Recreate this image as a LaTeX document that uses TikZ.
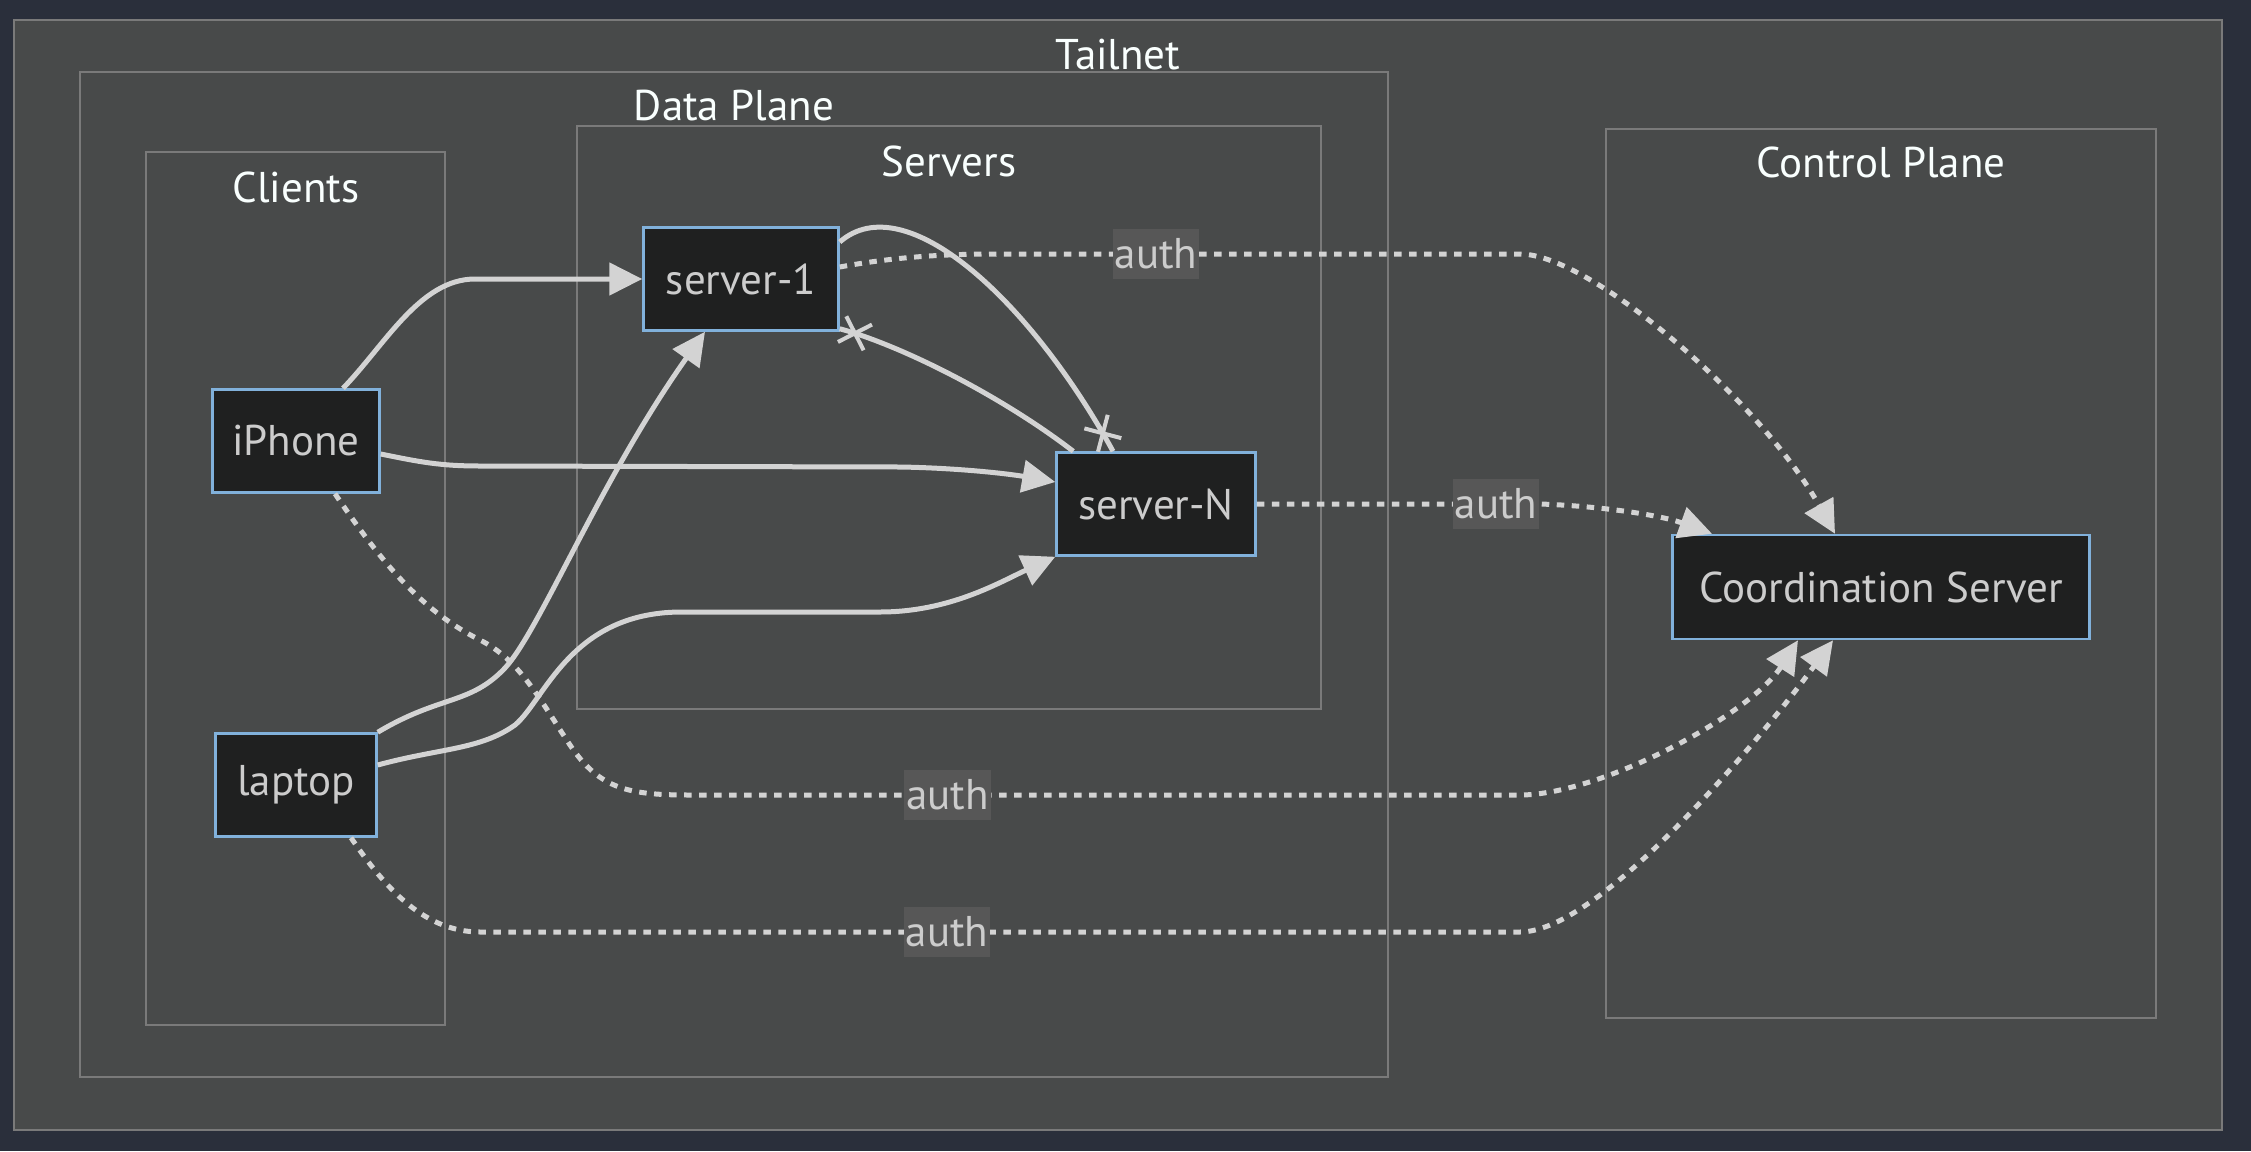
\documentclass[tikz,border=0pt]{standalone}
\usepackage{fontspec}
\setmainfont{PT Sans}
\usetikzlibrary{arrows.meta,positioning,calc,shapes.misc}
\definecolor{bgnavy}{HTML}{2A2F3B}
\definecolor{clfill}{HTML}{484A4A}
\definecolor{clgray}{HTML}{7A7A7A}
\definecolor{nodedark}{HTML}{1F2020}
\definecolor{nodeblue}{HTML}{81B1DB}
\definecolor{edgegray}{HTML}{D3D3D3}
\definecolor{softgray}{HTML}{CCCCCC}
\definecolor{titlewhite}{HTML}{F9FFFE}
\definecolor{lblgray}{HTML}{575757}
\tikzset{
  box/.style={rectangle,draw=nodeblue,fill=nodedark,line width=2.5pt,
    minimum width=#1,minimum height=103pt,inner sep=0pt,
    text=softgray,font=\fontsize{43}{50}\selectfont},
  cluster/.style={draw=clgray,fill=clfill,line width=2.5pt},
  ctitle/.style={text=titlewhite,inner sep=0pt,font=\fontsize{43}{50}\selectfont},
}

\begin{document}
\begin{tikzpicture}[
  x=1pt,y=-1pt,
  flow/.style={-{Triangle[length=33pt,width=32pt]},draw=edgegray,line width=5pt},
  authflow/.style={flow,dash pattern=on 7.5pt off 7.5pt},
  cut/.style={draw=edgegray,line width=5pt},
  xmark/.style={cross out,draw=edgegray,line width=4pt,minimum size=23pt,
    inner sep=0pt,sloped,solid},
  lbl/.style={fill=lblgray,text=softgray,inner xsep=2pt,inner ysep=0pt,
    minimum height=50pt,solid,font=\fontsize{43}{50}\selectfont},
]
  \fill[bgnavy] (0,0) rectangle (2251,1151);
  \useasboundingbox (0,0) rectangle (2251,1151);

  % subgraphs
  \draw[cluster] (14,20) rectangle (2222,1130);
  \node[ctitle] (t-tailnet) at (1118,55) {Tailnet};
  \draw[cluster] (80,72) rectangle (1388,1077);
  \node[ctitle] (t-data) at (734,106) {Data Plane};
  \draw[cluster] (146,152) rectangle (445,1025);
  \node[ctitle] (t-clients) at (296,187) {Clients};
  \draw[cluster] (577,126) rectangle (1321,709);
  \node[ctitle] (t-servers) at (949,161) {Servers};
  \draw[cluster] (1606,129) rectangle (2156,1018);
  \node[ctitle] (t-control) at (1881,162) {Control Plane};

  % nodes
  \node[box=167pt] (iphone) at (296,441) {iPhone};
  \node[box=161pt] (laptop) at (296,785) {laptop};
  \node[box=195pt] (server1) at (741,279) {server-1};
  \node[box=199pt] (serverN) at (1156,504) {server-N};
  \node[box=417pt,minimum height=104pt] (coord) at (1881,587) {Coordination Server};

  % peer links
  \draw[flow] ($(iphone.north)+(47,0)$) .. controls (385,345) and (420,279)
    .. (475,279) -- (server1.west);
  \draw[flow] ($(iphone.east)+(0,13)$) .. controls (420,462) and (440,466)
    .. (480,466) -- (900,467) .. controls (960,468) and (1010,474)
    .. ($(serverN.west)+(0,-22)$);
  \draw[flow] (laptop.north east) .. controls (440,695) and (470,705)
    .. (505,668) .. controls (540,630) and (600,480)
    .. ($(server1.south)+(-36,0)$);
  \draw[flow] ($(laptop.east)+(0,-20)$) .. controls (440,748) and (480,750)
    .. (515,725) .. controls (545,700) and (570,613) .. (680,612)
    -- (880,612) .. controls (950,612) and (1000,582) .. (serverN.south west);
  \draw[cut] ($(server1.east)+(0,-37)$) .. controls (905,185) and (1030,300)
    .. node[xmark,pos=.96] {} ($(serverN.north)+(-43,0)$);
  \draw[cut] ($(serverN.north west)+(18,0)$) .. controls (1000,395) and (900,345)
    .. node[xmark,pos=.92] {} ($(server1.south east)+(0,-3)$);

  % auth to control plane
  \draw[authflow] ($(server1.east)+(0,-12)$) .. controls (900,256) and (950,254)
    .. (1000,254) -- node[lbl,pos=.3] {auth} (1520,254)
    .. controls (1590,254) and (1760,400) .. ($(coord.north)+(-46,0)$);
  \draw[authflow] (serverN.east) -- node[lbl,pos=.845] {auth} (1540,504)
    .. controls (1600,506) and (1660,515) .. ($(coord.north)+(-169,0)$);
  \draw[authflow] ($(iphone.south)+(39,0)$) .. controls (380,560) and (420,610)
    .. (480,640) .. controls (520,660) and (540,700) .. (570,745)
    .. controls (600,790) and (630,795) .. (690,795)
    -- node[lbl,pos=.31] {auth} (1520,795)
    .. controls (1600,795) and (1750,715) .. ($(coord.south)+(-83,0)$);
  \draw[authflow] ($(laptop.south)+(55,0)$) .. controls (380,880) and (420,932)
    .. (480,932) -- node[lbl,pos=.449] {auth} (1520,932)
    .. controls (1600,932) and (1760,740) .. ($(coord.south)+(-48,0)$);
\end{tikzpicture}
\end{document}
